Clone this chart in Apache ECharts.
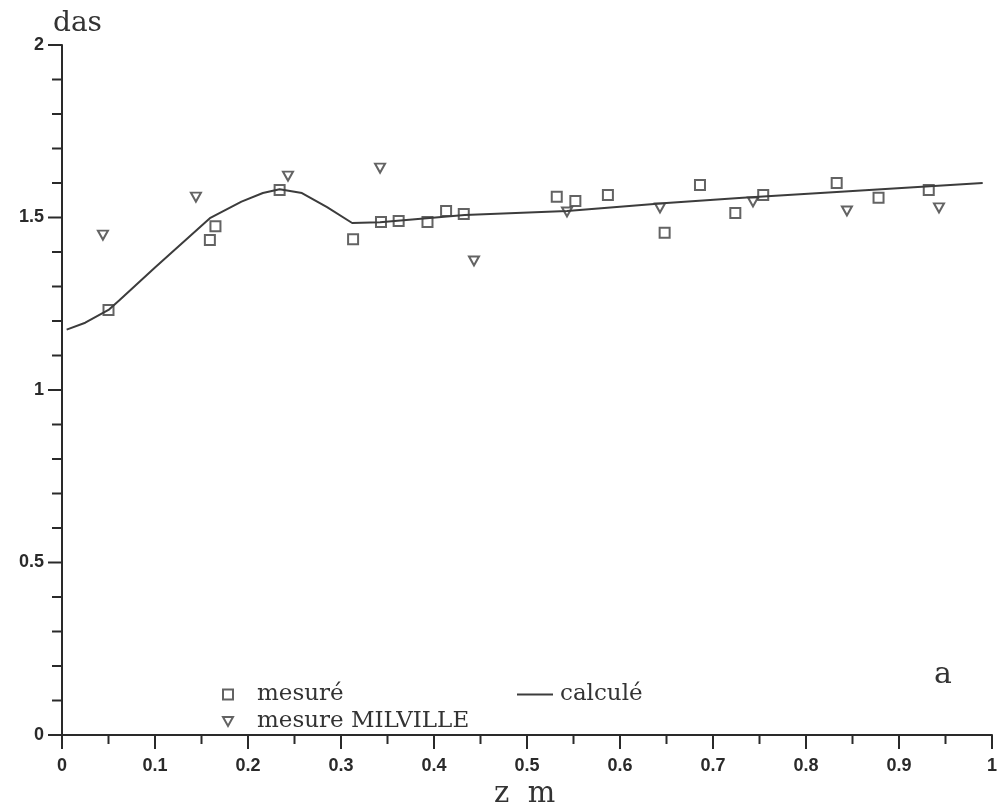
<!DOCTYPE html>
<html>
<head>
<meta charset="utf-8">
<script src="https://cdn.jsdelivr.net/npm/echarts@6/dist/echarts.min.js"></script>
<style>html,body{margin:0;padding:0;background:#fff;}#c{width:1000px;height:811px;}</style>
</head>
<body>
<div id="c"></div>
<script>
// calculé (line)
const calcX = [0.005, 0.025, 0.05, 0.062, 0.1, 0.159, 0.193, 0.216, 0.234, 0.258, 0.285, 0.312, 0.342, 0.433, 0.543, 0.65, 0.732, 0.833, 0.99];
const calcY = [1.175, 1.195, 1.232, 1.261, 1.355, 1.498, 1.546, 1.571, 1.582, 1.571, 1.53, 1.484, 1.486, 1.507, 1.519, 1.542, 1.557, 1.574, 1.6];
// mesuré (squares)
const mesX = [0.05, 0.159, 0.165, 0.234, 0.313, 0.343, 0.362, 0.393, 0.413, 0.432, 0.532, 0.552, 0.587, 0.648, 0.686, 0.724, 0.754, 0.833, 0.878, 0.932];
const mesY = [1.232, 1.435, 1.475, 1.58, 1.437, 1.487, 1.49, 1.487, 1.519, 1.51, 1.56, 1.548, 1.565, 1.456, 1.594, 1.513, 1.565, 1.6, 1.557, 1.58];
// mesure MILVILLE (triangles)
const milX = [0.044, 0.144, 0.243, 0.342, 0.443, 0.543, 0.643, 0.743, 0.844, 0.943];
const milY = [1.449, 1.559, 1.62, 1.643, 1.374, 1.516, 1.528, 1.545, 1.519, 1.528];
// tick values and labels
const xTicks = [0, 0.1, 0.2, 0.3, 0.4, 0.5, 0.6, 0.7, 0.8, 0.9, 1];
const xTickLabels = ['0', '0.1', '0.2', '0.3', '0.4', '0.5', '0.6', '0.7', '0.8', '0.9', '1'];
const yTicks = [0, 0.5, 1, 1.5, 2];
const yTickLabels = ['0', '0.5', '1', '1.5', '2'];

const ink = '#3c3c3c';
const axisInk = '#2a2a2a';
const serif = '"DejaVu Serif", serif';
const tickFont = 'bold 18px "Liberation Sans", Arial, sans-serif';
const tri = 'path://M0,0L10,0L5,9Z';
const zip = (a, b) => a.map((v, i) => [v, b[i]]);

const chart = echarts.init(document.getElementById('c'), null, {renderer: 'canvas'});
chart.setOption({
  backgroundColor: '#fff',
  animation: false,
  grid: {left: 62, right: 8, top: 45, bottom: 76, containLabel: false},
  xAxis: {
    type: 'value', min: xTicks[0], max: xTicks[xTicks.length - 1], interval: 0.1,
    axisLine: {show: true, onZero: false, lineStyle: {color: axisInk, width: 2}},
    axisTick: {show: false}, minorTick: {show: false}, splitLine: {show: false},
    axisLabel: {show: false}
  },
  yAxis: {
    type: 'value', min: yTicks[0], max: yTicks[yTicks.length - 1], interval: 0.5,
    axisLine: {show: true, onZero: false, lineStyle: {color: axisInk, width: 2}},
    axisTick: {show: false}, minorTick: {show: false}, splitLine: {show: false},
    axisLabel: {show: false}
  },
  legend: [
    {data: ['mesuré'], left: 217, top: 678, orient: 'vertical', itemWidth: 10, itemHeight: 10,
     textStyle: {fontFamily: serif, fontSize: 23, color: '#333', padding: [0, 0, 0, 19]}},
    {data: ['mesure MILVILLE'], left: 217, top: 705, orient: 'vertical', itemWidth: 10, itemHeight: 9,
     textStyle: {fontFamily: serif, fontSize: 23, color: '#333', padding: [0, 0, 0, 19]}},
    {data: [{name: 'calculé', icon: 'rect'}], left: 512, top: 678, itemWidth: 36, itemHeight: 2,
     textStyle: {fontFamily: serif, fontSize: 23, color: '#333', padding: [0, 0, 0, 2]}}
  ],
  series: [
    {name: 'calculé', type: 'line', data: zip(calcX, calcY), showSymbol: false, symbol: 'none',
     color: ink, lineStyle: {color: ink, width: 2}, itemStyle: {color: ink}, z: 2},
    {name: 'mesuré', type: 'scatter', data: zip(mesX, mesY), symbol: 'rect', symbolSize: 10,
     itemStyle: {color: 'rgba(255,255,255,0)', borderColor: ink, borderWidth: 2}, z: 3},
    {name: 'mesure MILVILLE', type: 'scatter', data: zip(milX, milY), symbol: tri, symbolSize: [10, 9],
     itemStyle: {color: 'rgba(255,255,255,0)', borderColor: ink, borderWidth: 2}, z: 3}
  ]
});

// Ticks and tick labels placed through the chart's own scales
const px = (x, y) => chart.convertToPixel({gridIndex: 0}, [x, y]);
const g = [];
const tickStyle = {stroke: axisInk, lineWidth: 2};
const y0 = yTicks[0], x0 = xTicks[0];
xTicks.forEach((v, i) => {
  const p = px(v, y0);
  g.push({type: 'line', shape: {x1: p[0], y1: p[1], x2: p[0], y2: p[1] + 14}, style: tickStyle, z: 10});
  g.push({type: 'text', x: p[0], y: p[1] + 22,
    style: {text: xTickLabels[i], font: tickFont, fill: axisInk, align: 'center', verticalAlign: 'top'}, z: 10});
  if (i < xTicks.length - 1) {
    const m = px((v + xTicks[i + 1]) / 2, y0);
    g.push({type: 'line', shape: {x1: m[0], y1: m[1], x2: m[0], y2: m[1] + 9}, style: tickStyle, z: 10});
  }
});
yTicks.forEach((v, i) => {
  const p = px(x0, v);
  g.push({type: 'line', shape: {x1: p[0] - 14, y1: p[1], x2: p[0], y2: p[1]}, style: tickStyle, z: 10});
  g.push({type: 'text', x: p[0] - 18, y: p[1],
    style: {text: yTickLabels[i], font: tickFont, fill: axisInk, align: 'right', verticalAlign: 'middle'}, z: 10});
  if (i < yTicks.length - 1) {
    const step = (yTicks[i + 1] - v) / 5;
    for (let k = 1; k < 5; k++) {
      const m = px(x0, v + k * step);
      g.push({type: 'line', shape: {x1: m[0] - 10, y1: m[1], x2: m[0], y2: m[1]}, style: tickStyle, z: 10});
    }
  }
});
g.push({type: 'text', left: 53, top: 10, style: {text: 'das', font: '28px "DejaVu Serif"', fill: '#333'}});
g.push({type: 'text', left: 494, top: 780, style: {text: 'z  m', font: '29px "DejaVu Serif"', fill: '#333'}});
g.push({type: 'text', left: 934, top: 660, style: {text: 'a', font: '30px "DejaVu Serif"', fill: '#333'}});
chart.setOption({graphic: g});
</script>
</body>
</html>
